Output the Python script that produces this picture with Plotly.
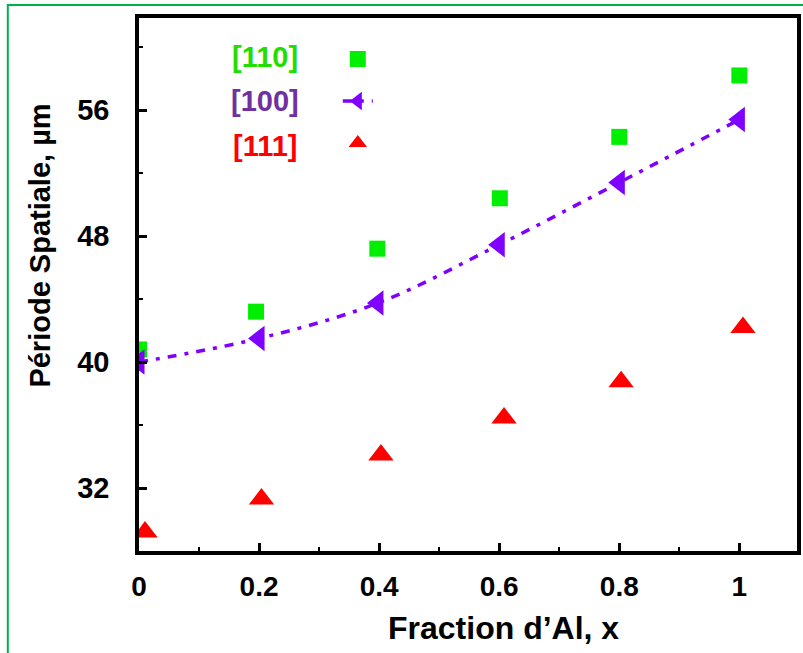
import plotly.graph_objects as go

# ---- data ----
x_110 = [0.0, 0.195, 0.397, 0.601, 0.800, 1.000]
y_110 = [40.8, 43.2, 47.2, 50.4, 54.3, 58.2]

x_100 = [0.0, 0.200, 0.398, 0.600, 0.800, 1.000]
y_100 = [40.0, 41.5, 43.75, 47.45, 51.4, 55.4]

x_111 = [0.010, 0.204, 0.403, 0.608, 0.803, 1.006]
y_111 = [29.2, 31.3, 34.1, 36.45, 38.75, 42.2]

series_names = ["[110]", "[100]", "[111]"]
series_colors = ["#00EE00", "#8000FF", "#FF0000"]
label_colors = ["#22DD00", "#7030A0", "#FF0000"]

x_tickvals = [0, 0.2, 0.4, 0.6, 0.8, 1]
x_ticktext = ["0", "0.2", "0.4", "0.6", "0.8", "1"]
y_tickvals = [32, 40, 48, 56]
y_ticktext = ["32", "40", "48", "56"]

x_title = "Fraction d’Al, x"
y_title = "Période Spatiale, µm"

FONT = "Liberation Sans, Arial, sans-serif"

fig = go.Figure()
fig.add_trace(go.Scatter(
    x=x_110, y=y_110, mode="markers", name=" ",
    marker=dict(symbol="square", size=16, color=series_colors[0]),
    cliponaxis=True,
))
fig.add_trace(go.Scatter(
    x=x_100, y=y_100, mode="lines+markers", name=" ",
    line=dict(color=series_colors[1], width=3.5, dash="9px,8px,4px,8px", shape="spline", smoothing=1.0),
    marker=dict(symbol="triangle-left", size=22, color=series_colors[1]),
    cliponaxis=True,
))
fig.add_trace(go.Scatter(
    x=x_111, y=y_111, mode="markers", name=" ",
    marker=dict(symbol="triangle-up", size=22, color=series_colors[2]),
    cliponaxis=True,
))

W, H = 803, 653
L, R, T, B = 139, 2, 18, 102
pw, ph = W - L - R, H - T - B

def px2paper(px, py):
    return (px - L) / pw, (H - B - py) / ph

annotations = []
label_rows = [57, 101, 146]
for name, col, py in zip(series_names, label_colors, label_rows):
    ax, ay = px2paper(266, py)
    annotations.append(dict(
        x=ax, y=ay, xref="paper", yref="paper", text=f"<b>{name}</b>", showarrow=False,
        xanchor="center", yanchor="middle",
        font=dict(family=FONT, size=29, color=col),
    ))

tx, ty = px2paper(506, 628)
annotations.append(dict(x=tx, y=ty, xref="paper", yref="paper", text=f"<b>{x_title}</b>",
                        showarrow=False, xanchor="center", yanchor="middle",
                        font=dict(family=FONT, size=32, color="black")))
tx, ty = px2paper(39, 246)
annotations.append(dict(x=tx, y=ty, xref="paper", yref="paper", text=f"<b>{y_title}</b>",
                        showarrow=False, xanchor="center", yanchor="middle", textangle=-90,
                        font=dict(family=FONT, size=29, color="black")))

gx0, gy0 = px2paper(7, 5)
gx1, gy1 = px2paper(820, 680)

lx, ly = px2paper(339, 33)

fig.update_layout(
    width=W, height=H,
    margin=dict(l=L, r=R, t=T, b=B, pad=0),
    paper_bgcolor="white", plot_bgcolor="white",
    showlegend=True,
    legend=dict(x=lx, y=ly, xanchor="left", yanchor="top",
                bgcolor="rgba(0,0,0,0)", font=dict(family=FONT, size=30),
                itemsizing="trace", tracegroupgap=0),
    annotations=annotations,
    shapes=[dict(type="rect", xref="paper", yref="paper",
                 x0=gx0, y0=gy1, x1=gx1, y1=gy0,
                 line=dict(color="#00B050", width=2), fillcolor="rgba(0,0,0,0)")],
    xaxis=dict(
        range=[0, 1.096], showgrid=False, zeroline=False,
        showline=True, linecolor="black", linewidth=3.5, mirror=True,
        tickmode="array", tickvals=x_tickvals, ticktext=x_ticktext,
        ticks="inside", ticklen=8, tickwidth=3, tickcolor="black",
        ticklabelstandoff=8,
        tickfont=dict(family=FONT, size=28, color="black", weight="bold"),
        minor=dict(dtick=0.1, tick0=0, ticks="inside", ticklen=4, tickwidth=2, tickcolor="black"),
    ),
    yaxis=dict(
        range=[28.0, 61.85], showgrid=False, zeroline=False,
        showline=True, linecolor="black", linewidth=3.5, mirror=True,
        tickmode="array", tickvals=y_tickvals, ticktext=y_ticktext,
        ticks="inside", ticklen=8, tickwidth=3, tickcolor="black",
        ticklabelstandoff=20,
        tickfont=dict(family=FONT, size=29, color="black", weight="bold"),
        minor=dict(dtick=4, tick0=0, ticks="inside", ticklen=4, tickwidth=2, tickcolor="black"),
    ),
)

fig.write_html("out.html", config={"displayModeBar": False},
               post_script="document.body.style.margin='0px';")
